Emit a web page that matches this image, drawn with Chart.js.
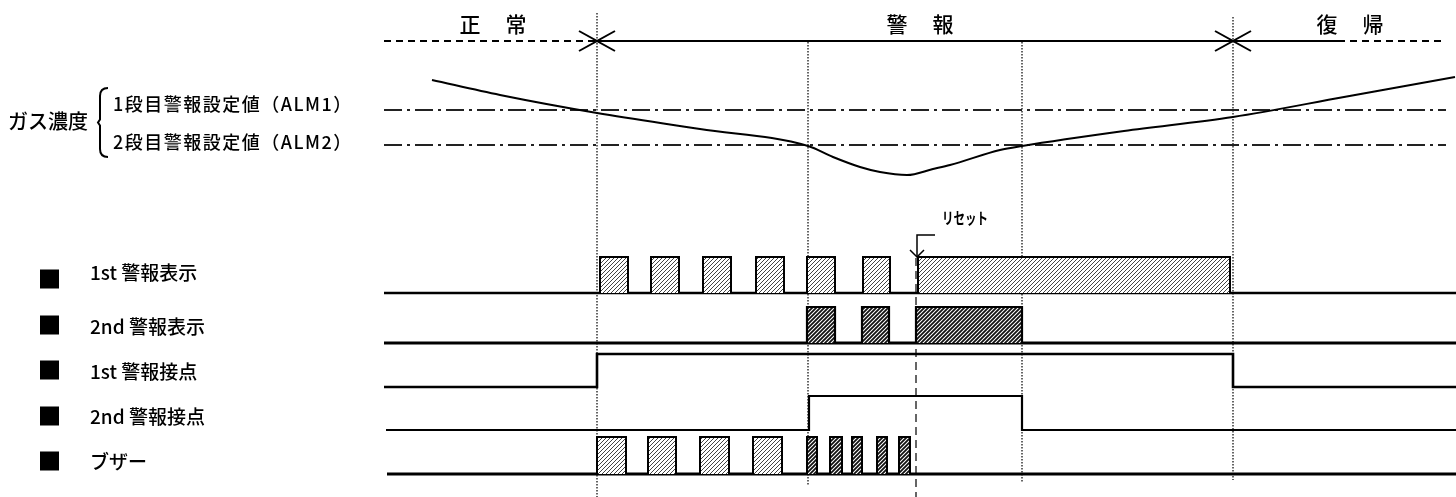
<!DOCTYPE html>
<html>
<head>
<meta charset="utf-8">
<script src="https://cdn.jsdelivr.net/npm/chart.js@4.4.1/dist/chart.umd.min.js"></script>
<style>
  html, body { margin: 0; padding: 0; background: #fff; }
  #wrap { width: 1456px; height: 497px; position: relative; }
</style>
</head>
<body>
<div id="wrap"><canvas id="timing"></canvas></div>
<script>
// time axis: 0 = left end of the signal lines
const phaseLabels = ['正常', '警報', '復帰'];
const phaseCenters = [10.9, 53.6, 96.6];
const eventTimes = [21.3, 42.4, 63.8, 84.9];   // ALM1 on, ALM2 on, ALM2 off, ALM1 off
const resetTime = 53.2;
const lineEnd = 107.2;

// gas concentration (drawn growing downward)
const gasTimes  = [4.8, 11.6, 21.3, 31.6, 42.4, 44.9, 47.6, 49.6, 52.3, 54.9, 56.6, 61.6, 63.8, 74.0, 84.9, 96.0, 107.1];
const gasValues = [8.0, 9.5, 11.3, 12.9, 14.6, 15.7, 16.7, 17.2, 17.5, 16.9, 16.5, 15.0, 14.6, 13.1, 11.7, 9.7, 7.7];
const alarmLevels = [11.0, 14.5];
const alarmLabels = ['1段目警報設定値（ALM1）', '2段目警報設定値（ALM2）'];
const alarmLabelY = [10.4, 14.25];

// signal rows
const signalNames = ['1st 警報表示', '2nd 警報表示', '1st 警報接点', '2nd 警報接点', 'ブザー'];
const signalLow  = [20.4, 15.4, 11.0, 6.7, 2.3];
const signalHigh = [24.0, 19.0, 14.3, 10.1, 6.0];
const signalStart = [0, 0, 0, 0.2, 0.3];
const labelY = [22.4, 17.0, 12.5, 8.0, 3.5];
const markY  = [21.8, 17.2, 12.7, 8.1, 3.6];

const alarm1Pulses = [[21.6, 24.4], [26.7, 29.5], [31.9, 34.7], [37.2, 40.0], [42.3, 45.1], [47.9, 50.6], [53.4, 84.6]];
const alarm2Pulses = [[42.3, 45.1], [47.8, 50.5], [53.2, 63.8]];
const buzzerPulses = [[21.3, 24.2], [26.4, 29.2], [31.6, 34.5], [36.9, 39.8],
                      [42.3, 43.3], [44.6, 45.8], [46.8, 47.8], [49.3, 50.3], [51.5, 52.6]];
const contact1On = [21.3, 84.9];
const contact2On = [42.5, 63.8];

const canvas = document.getElementById('timing');
const mainCtx = canvas.getContext('2d');

function hatch(size, lineW, color) {
    const c = document.createElement('canvas');
    c.width = size; c.height = size;
    const g = c.getContext('2d');
    g.fillStyle = '#fff';
    g.fillRect(0, 0, size, size);
    g.strokeStyle = color;
    g.lineWidth = lineW;
    g.beginPath();
    g.moveTo(-1, size + 1); g.lineTo(size + 1, -1);
    g.moveTo(-1, 1); g.lineTo(1, -1);
    g.moveTo(size - 1, size + 1); g.lineTo(size + 1, size - 1);
    g.stroke();
    return mainCtx.createPattern(c, 'repeat');
}
const hatchLight = hatch(4, 1, '#444');
const hatchDark = hatch(4, 1.8, '#111');

const datasets = [];

function addLine(points, axis, opts) {
    datasets.push(Object.assign({
        data: points,
        yAxisID: axis,
        borderColor: '#000',
        borderWidth: 2,
        pointRadius: 0,
        fill: false,
        tension: 0
    }, opts || {}));
}

function addPulses(pulses, row, pattern, border) {
    pulses.forEach(p => {
        const lo = signalLow[row], hi = signalHigh[row];
        addLine([{x: p[0], y: lo}, {x: p[0], y: hi}, {x: p[1], y: hi}, {x: p[1], y: lo}], 'ySig', {
            fill: {value: lo},
            backgroundColor: pattern,
            borderWidth: border
        });
    });
}

function stepLine(on, row) {
    const lo = signalLow[row], hi = signalHigh[row];
    return [{x: signalStart[row], y: lo}, {x: on[0], y: lo}, {x: on[0], y: hi},
            {x: on[1], y: hi}, {x: on[1], y: lo}, {x: lineEnd, y: lo}];
}

// gas curve + alarm levels
addLine(gasTimes.map((t, i) => ({x: t, y: gasValues[i]})), 'yGas', {cubicInterpolationMode: 'monotone'});
alarmLevels.forEach(v => addLine([{x: 0, y: v}, {x: 106.2, y: v}], 'yGas', {borderDash: [18, 5, 3, 5], borderColor: '#222'}));

// phase timeline
const topY = 4.1;
addLine([{x: 0, y: topY}, {x: eventTimes[0], y: topY}], 'yGas', {borderDash: [7, 5]});
addLine([{x: eventTimes[0], y: topY}, {x: 95.4, y: topY}], 'yGas');
addLine([{x: 95.4, y: topY}, {x: 106.1, y: topY}], 'yGas', {borderDash: [7, 5]});
[eventTimes[0], eventTimes[3]].forEach(t => {
    addLine([{x: t - 1.8, y: topY - 1}, {x: t, y: topY}, {x: t - 1.8, y: topY + 1}], 'yGas');
    addLine([{x: t + 1.8, y: topY - 1}, {x: t, y: topY}, {x: t + 1.8, y: topY + 1}], 'yGas');
});

// signals
addPulses(alarm1Pulses, 0, hatchLight, 2);
addPulses(alarm2Pulses, 1, hatchDark, 2.2);
addPulses(buzzerPulses.slice(0, 4), 4, hatchLight, 2);
addPulses(buzzerPulses.slice(4), 4, hatchDark, 2);
addLine([{x: signalStart[0], y: signalLow[0]}, {x: lineEnd, y: signalLow[0]}], 'ySig', {borderWidth: 2.4});
addLine([{x: signalStart[1], y: signalLow[1]}, {x: lineEnd, y: signalLow[1]}], 'ySig', {borderWidth: 3.2});
addLine(stepLine(contact1On, 2), 'ySig', {borderWidth: 2.6});
addLine(stepLine(contact2On, 3), 'ySig', {borderWidth: 2.2});
addLine([{x: signalStart[4], y: signalLow[4]}, {x: lineEnd, y: signalLow[4]}], 'ySig', {borderWidth: 3});

// reset arrow
addLine([{x: 55.1, y: 23.5}, {x: 53.3, y: 23.5}, {x: 53.3, y: 25.7}], 'yGas', {borderWidth: 1.5});
addLine([{x: 52.6, y: 25.0}, {x: 53.3, y: 25.7}, {x: 54.0, y: 25.0}], 'yGas', {borderWidth: 1.5});

// event markers
const vTop = [1.3, 4.2, 4.2, 1.7];
const vBottom = [49.7, 48.5, 48.3, 48.0];
eventTimes.forEach((t, i) => addLine([{x: t, y: vTop[i]}, {x: t, y: vBottom[i]}], 'yGas',
    {borderDash: [1.5, 1.5], borderWidth: 1.5, borderColor: '#333'}));
addLine([{x: resetTime, y: 25.8}, {x: resetTime, y: 49.7}], 'yGas',
    {borderDash: [8, 5], borderWidth: 1.5, borderColor: '#333'});

const jp = '"Noto Sans CJK JP", "Noto Sans", sans-serif';

const textPlugin = {
    id: 'texts',
    afterDatasetsDraw(chart) {
        const {ctx, scales: {x, yGas, ySig}} = chart;
        ctx.save();
        ctx.fillStyle = '#000';
        ctx.textBaseline = 'middle';

        // phase headers
        ctx.font = '500 21px ' + jp;
        ctx.textAlign = 'center';
        phaseLabels.forEach((s, i) => {
            const cx = x.getPixelForValue(phaseCenters[i]);
            const cy = yGas.getPixelForValue(2.4);
            ctx.fillText(s[0], cx - 23, cy);
            ctx.fillText(s[1], cx + 23, cy);
        });

        // gas labels
        ctx.textAlign = 'left';
        ctx.font = '500 20px ' + jp;
        ctx.fillText('ガス濃度', x.getPixelForValue(-37.6), yGas.getPixelForValue(12.15));
        ctx.font = '500 18px ' + jp;
        ctx.letterSpacing = '1.5px';
        alarmLabels.forEach((s, i) => ctx.fillText(s, x.getPixelForValue(-27.1), yGas.getPixelForValue(alarmLabelY[i])));
        ctx.letterSpacing = '0px';

        // bracket
        const bx = x.getPixelForValue(-28.4), bh = x.getPixelForValue(-27.6);
        const bt = yGas.getPixelForValue(8.8), bb = yGas.getPixelForValue(15.7);
        const bm = (bt + bb) / 2;
        ctx.lineWidth = 2;
        ctx.strokeStyle = '#000';
        ctx.beginPath();
        ctx.moveTo(bh, bt);
        ctx.quadraticCurveTo(bx, bt, bx, bt + 8);
        ctx.lineTo(bx, bm - 3);
        ctx.lineTo(bx - 2, bm);
        ctx.lineTo(bx, bm + 3);
        ctx.lineTo(bx, bb - 8);
        ctx.quadraticCurveTo(bx, bb, bh, bb);
        ctx.stroke();

        // signal names
        ctx.font = '500 19px ' + jp;
        signalNames.forEach((s, i) => {
            const sq = 19;
            ctx.fillRect(x.getPixelForValue(-34.4), ySig.getPixelForValue(markY[i]) - sq / 2, sq, sq);
            ctx.fillText(s, x.getPixelForValue(-29.4), ySig.getPixelForValue(labelY[i]));
        });

        // reset label
        ctx.font = 'bold 16px ' + jp;
        ctx.translate(x.getPixelForValue(55.8), yGas.getPixelForValue(21.8));
        ctx.scale(0.72, 1);
        ctx.fillText('リセット', 0, 0);
        ctx.restore();
    }
};

new Chart(canvas, {
    type: 'line',
    data: { datasets: datasets },
    options: {
        responsive: true,
        maintainAspectRatio: false,
        animation: false,
        devicePixelRatio: 1,
        layout: { padding: 0 },
        scales: {
            x: { type: 'linear', min: -38.4, max: 107.2, display: false },
            yGas: { type: 'linear', reverse: true, min: 0, max: 49.7, display: false },
            ySig: { type: 'linear', min: 0, max: 49.7, display: false }
        },
        plugins: {
            legend: { display: false },
            tooltip: { enabled: false }
        }
    },
    plugins: [textPlugin]
});
</script>
</body>
</html>
